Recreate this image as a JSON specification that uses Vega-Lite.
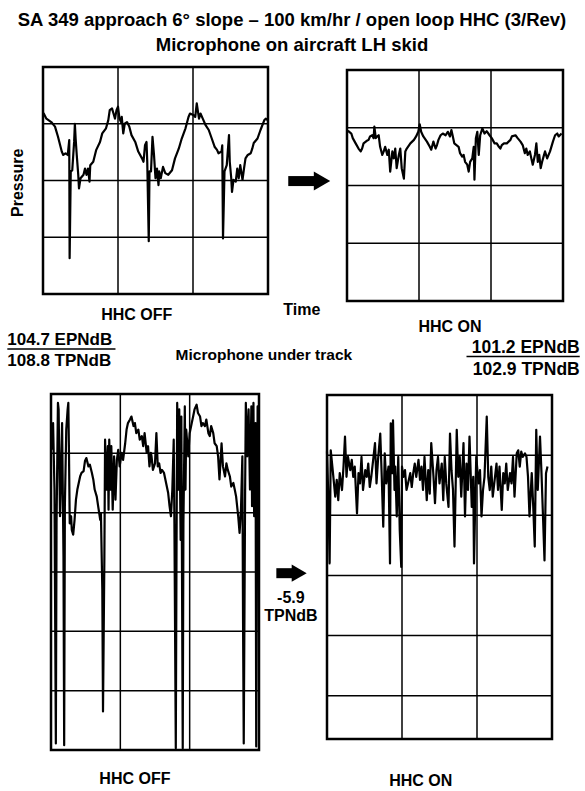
{
"$schema":"https://vega.github.io/schema/vega-lite/v6.json",
"width":585,"height":791,"autosize":"none","padding":0,
"background":"white",
"config":{"view":{"stroke":null},"axis":{"disable":true},"text":{"font":"Liberation Sans","fontWeight":"bold","fontSize":16,"color":"black"}},
"resolve":{"scale":{"x":"independent","y":"independent"}},
"layer":[
{"data":{"values":[{"t":0,"p":3.15},{"t":0.01,"p":3.18},{"t":0.045,"p":3.09},{"t":0.11,"p":3.03},{"t":0.16,"p":2.95},{"t":0.2,"p":2.77},{"t":0.25,"p":2.51},{"t":0.27,"p":2.45},{"t":0.3,"p":2.48},{"t":0.33,"p":2.45},{"t":0.35,"p":2.71},{"t":0.355,"p":0.63},{"t":0.37,"p":2.16},{"t":0.39,"p":2.18},{"t":0.415,"p":2.68},{"t":0.425,"p":3.0},{"t":0.435,"p":2.74},{"t":0.45,"p":2.45},{"t":0.47,"p":2.1},{"t":0.48,"p":1.86},{"t":0.5,"p":2.04},{"t":0.54,"p":2.1},{"t":0.56,"p":2.21},{"t":0.58,"p":2.1},{"t":0.6,"p":2.21},{"t":0.62,"p":1.98},{"t":0.63,"p":2.27},{"t":0.67,"p":2.33},{"t":0.71,"p":2.54},{"t":0.76,"p":2.68},{"t":0.79,"p":2.83},{"t":0.84,"p":2.92},{"t":0.87,"p":3.06},{"t":0.89,"p":3.24},{"t":0.92,"p":3.27},{"t":0.94,"p":3.18},{"t":0.96,"p":3.09},{"t":0.98,"p":3.24},{"t":1.0,"p":3.3},{"t":1.02,"p":3.09},{"t":1.04,"p":3.03},{"t":1.05,"p":3.12},{"t":1.07,"p":2.83},{"t":1.09,"p":3.0},{"t":1.12,"p":3.03},{"t":1.15,"p":2.95},{"t":1.18,"p":2.8},{"t":1.23,"p":2.68},{"t":1.27,"p":2.51},{"t":1.32,"p":2.39},{"t":1.34,"p":2.33},{"t":1.36,"p":2.62},{"t":1.38,"p":2.68},{"t":1.39,"p":2.33},{"t":1.41,"p":0.93},{"t":1.42,"p":2.16},{"t":1.44,"p":2.16},{"t":1.46,"p":2.77},{"t":1.48,"p":2.45},{"t":1.5,"p":2.04},{"t":1.52,"p":2.21},{"t":1.54,"p":1.92},{"t":1.55,"p":2.16},{"t":1.57,"p":2.04},{"t":1.6,"p":2.24},{"t":1.63,"p":2.13},{"t":1.67,"p":2.1},{"t":1.72,"p":2.18},{"t":1.76,"p":2.39},{"t":1.81,"p":2.56},{"t":1.85,"p":2.74},{"t":1.9,"p":2.92},{"t":1.94,"p":3.12},{"t":1.96,"p":3.18},{"t":2.01,"p":3.15},{"t":2.03,"p":3.12},{"t":2.05,"p":3.36},{"t":2.08,"p":3.09},{"t":2.1,"p":3.18},{"t":2.13,"p":3.09},{"t":2.17,"p":2.97},{"t":2.21,"p":2.89},{"t":2.25,"p":2.74},{"t":2.29,"p":2.59},{"t":2.32,"p":2.54},{"t":2.34,"p":2.48},{"t":2.38,"p":2.51},{"t":2.39,"p":2.62},{"t":2.4,"p":0.98},{"t":2.42,"p":2.16},{"t":2.45,"p":2.27},{"t":2.48,"p":2.8},{"t":2.49,"p":2.33},{"t":2.51,"p":2.04},{"t":2.52,"p":1.8},{"t":2.54,"p":2.01},{"t":2.57,"p":1.98},{"t":2.59,"p":2.21},{"t":2.61,"p":2.04},{"t":2.63,"p":2.27},{"t":2.66,"p":2.01},{"t":2.68,"p":2.21},{"t":2.7,"p":2.39},{"t":2.73,"p":2.45},{"t":2.77,"p":2.48},{"t":2.79,"p":2.56},{"t":2.81,"p":2.66},{"t":2.86,"p":2.74},{"t":2.9,"p":2.89},{"t":2.95,"p":3.06},{"t":2.97,"p":3.09},{"t":3.0,"p":3.06}]},
 "layer":[
  {"mark":{"type":"line","color":"black","strokeWidth":2.2,"strokeJoin":"round"},"encoding":{"x":{"field":"t","type":"quantitative","scale":{"domain":[0,3],"range":[43,268],"nice":false,"zero":false},"axis":null},"y":{"field":"p","type":"quantitative","scale":{"domain":[0,4],"range":[294,67],"nice":false,"zero":false},"axis":null}}},
  {"data":{"values":[{"g":1},{"g":2}]},"mark":{"type":"rule","color":"black","strokeWidth":1.5},"encoding":{"x":{"field":"g","type":"quantitative"},"y":{"datum":0},"y2":{"datum":4}}},
  {"data":{"values":[{"g":1},{"g":2},{"g":3}]},"mark":{"type":"rule","color":"black","strokeWidth":1.5},"encoding":{"y":{"field":"g","type":"quantitative"},"x":{"datum":0},"x2":{"datum":3}}},
  {"data":{"values":[{}]},"mark":{"type":"rect","fill":"transparent","stroke":"black","strokeWidth":2.5},"encoding":{"x":{"datum":0},"x2":{"datum":3},"y":{"datum":0},"y2":{"datum":4}}},
  {"data":{"values":[{}]},"mark":{"type":"text","text":["SA 349 approach 6° slope – 100 km/hr / open loop HHC (3/Rev)","Microphone on aircraft LH skid"],"fontSize":18.5,"align":"center","baseline":"alphabetic","lineHeight":25},"encoding":{"x":{"datum":3.32},"y":{"datum":4.72}}},
  {"data":{"values":[{}]},"mark":{"type":"text","text":"Pressure","angle":270,"align":"center","baseline":"middle"},"encoding":{"x":{"datum":-0.33},"y":{"datum":1.96}}},
  {"data":{"values":[{}]},"mark":{"type":"text","text":"HHC OFF","align":"center","baseline":"alphabetic"},"encoding":{"x":{"datum":1.25},"y":{"datum":-0.46}}},
  {"data":{"values":[{}]},"mark":{"type":"text","text":"Time","align":"center","baseline":"alphabetic"},"encoding":{"x":{"datum":3.45},"y":{"datum":-0.37}}},
  {"data":{"values":[{}]},"mark":{"type":"rule","color":"black","strokeWidth":10,"strokeCap":"butt"},"encoding":{"x":{"datum":3.27},"x2":{"datum":3.67},"y":{"datum":1.99}}},
  {"data":{"values":[{}]},"mark":{"type":"point","shape":"triangle-right","filled":true,"color":"black","opacity":1,"size":360},"encoding":{"x":{"datum":3.72},"y":{"datum":1.99}}}
 ]},
{"data":{"values":[{"t":0.0,"p":2.93},{"t":0.02,"p":2.94},{"t":0.06,"p":2.9},{"t":0.08,"p":2.82},{"t":0.12,"p":2.73},{"t":0.16,"p":2.64},{"t":0.19,"p":2.59},{"t":0.21,"p":2.64},{"t":0.23,"p":2.73},{"t":0.27,"p":2.77},{"t":0.3,"p":2.79},{"t":0.32,"p":2.85},{"t":0.35,"p":2.87},{"t":0.37,"p":2.82},{"t":0.38,"p":3.02},{"t":0.4,"p":2.82},{"t":0.42,"p":2.85},{"t":0.44,"p":2.87},{"t":0.46,"p":2.67},{"t":0.49,"p":2.53},{"t":0.51,"p":2.59},{"t":0.53,"p":2.67},{"t":0.56,"p":2.53},{"t":0.58,"p":2.62},{"t":0.6,"p":2.24},{"t":0.63,"p":2.59},{"t":0.65,"p":2.47},{"t":0.67,"p":2.64},{"t":0.69,"p":2.3},{"t":0.72,"p":2.53},{"t":0.74,"p":2.64},{"t":0.76,"p":2.3},{"t":0.79,"p":2.12},{"t":0.81,"p":2.59},{"t":0.83,"p":2.64},{"t":0.88,"p":2.73},{"t":0.93,"p":2.79},{"t":0.96,"p":2.85},{"t":0.99,"p":2.93},{"t":1.01,"p":3.06},{"t":1.03,"p":2.93},{"t":1.06,"p":2.85},{"t":1.11,"p":2.76},{"t":1.15,"p":2.67},{"t":1.17,"p":2.62},{"t":1.2,"p":2.76},{"t":1.23,"p":2.64},{"t":1.25,"p":2.7},{"t":1.27,"p":2.79},{"t":1.3,"p":2.87},{"t":1.33,"p":2.9},{"t":1.37,"p":2.87},{"t":1.4,"p":2.93},{"t":1.43,"p":2.85},{"t":1.45,"p":2.96},{"t":1.47,"p":2.85},{"t":1.49,"p":2.73},{"t":1.52,"p":2.7},{"t":1.55,"p":2.67},{"t":1.57,"p":2.56},{"t":1.6,"p":2.5},{"t":1.62,"p":2.53},{"t":1.64,"p":2.41},{"t":1.67,"p":2.36},{"t":1.69,"p":2.24},{"t":1.71,"p":2.41},{"t":1.74,"p":2.47},{"t":1.76,"p":2.67},{"t":1.77,"p":2.1},{"t":1.79,"p":2.82},{"t":1.81,"p":2.93},{"t":1.83,"p":2.53},{"t":1.85,"p":2.87},{"t":1.88,"p":2.99},{"t":1.91,"p":2.9},{"t":1.94,"p":2.94},{"t":1.98,"p":2.87},{"t":2.01,"p":2.82},{"t":2.05,"p":2.73},{"t":2.08,"p":2.73},{"t":2.11,"p":2.67},{"t":2.13,"p":2.64},{"t":2.15,"p":2.7},{"t":2.18,"p":2.73},{"t":2.22,"p":2.73},{"t":2.27,"p":2.79},{"t":2.29,"p":2.85},{"t":2.34,"p":2.87},{"t":2.37,"p":2.82},{"t":2.41,"p":2.76},{"t":2.44,"p":2.7},{"t":2.47,"p":2.56},{"t":2.49,"p":2.64},{"t":2.51,"p":2.53},{"t":2.54,"p":2.59},{"t":2.56,"p":2.47},{"t":2.58,"p":2.36},{"t":2.61,"p":2.53},{"t":2.63,"p":2.73},{"t":2.65,"p":2.41},{"t":2.67,"p":2.53},{"t":2.69,"p":2.3},{"t":2.71,"p":2.41},{"t":2.73,"p":2.5},{"t":2.75,"p":2.59},{"t":2.78,"p":2.47},{"t":2.8,"p":2.53},{"t":2.82,"p":2.59},{"t":2.86,"p":2.76},{"t":2.89,"p":2.87},{"t":2.92,"p":2.9},{"t":2.94,"p":2.85},{"t":2.98,"p":2.9}]},
 "layer":[
  {"mark":{"type":"line","color":"black","strokeWidth":2.2,"strokeJoin":"round"},"encoding":{"x":{"field":"t","type":"quantitative","scale":{"domain":[0,3],"range":[347,563],"nice":false,"zero":false},"axis":null},"y":{"field":"p","type":"quantitative","scale":{"domain":[0,4],"range":[301,70],"nice":false,"zero":false},"axis":null}}},
  {"data":{"values":[{"g":1},{"g":2}]},"mark":{"type":"rule","color":"black","strokeWidth":1.5},"encoding":{"x":{"field":"g","type":"quantitative"},"y":{"datum":0},"y2":{"datum":4}}},
  {"data":{"values":[{"g":1},{"g":2},{"g":3}]},"mark":{"type":"rule","color":"black","strokeWidth":1.5},"encoding":{"y":{"field":"g","type":"quantitative"},"x":{"datum":0},"x2":{"datum":3}}},
  {"data":{"values":[{}]},"mark":{"type":"rect","fill":"transparent","stroke":"black","strokeWidth":2.5},"encoding":{"x":{"datum":0},"x2":{"datum":3},"y":{"datum":0},"y2":{"datum":4}}},
  {"data":{"values":[{}]},"mark":{"type":"text","text":"HHC ON","align":"center","baseline":"alphabetic"},"encoding":{"x":{"datum":1.43},"y":{"datum":-0.54}}}
 ]},
{"data":{"values":[{"t":0.01,"p":5.06},{"t":0.03,"p":5.51},{"t":0.05,"p":4.39},{"t":0.07,"p":0.11},{"t":0.08,"p":3.82},{"t":0.1,"p":5.85},{"t":0.11,"p":5.74},{"t":0.13,"p":3.94},{"t":0.14,"p":4.39},{"t":0.16,"p":5.51},{"t":0.18,"p":3.26},{"t":0.19,"p":0.08},{"t":0.2,"p":4.11},{"t":0.22,"p":5.4},{"t":0.24,"p":5.74},{"t":0.25,"p":5.85},{"t":0.26,"p":4.95},{"t":0.27,"p":3.82},{"t":0.29,"p":3.94},{"t":0.3,"p":3.71},{"t":0.32,"p":3.63},{"t":0.34,"p":3.88},{"t":0.36,"p":4.22},{"t":0.38,"p":4.39},{"t":0.4,"p":4.5},{"t":0.42,"p":4.61},{"t":0.44,"p":4.67},{"t":0.47,"p":4.7},{"t":0.49,"p":4.87},{"t":0.51,"p":4.92},{"t":0.54,"p":4.78},{"t":0.56,"p":4.81},{"t":0.59,"p":4.67},{"t":0.61,"p":4.56},{"t":0.63,"p":4.39},{"t":0.66,"p":4.27},{"t":0.68,"p":4.11},{"t":0.71,"p":3.88},{"t":0.72,"p":3.99},{"t":0.74,"p":2.7},{"t":0.75,"p":0.65},{"t":0.77,"p":3.26},{"t":0.78,"p":5.23},{"t":0.8,"p":4.39},{"t":0.82,"p":5.12},{"t":0.83,"p":4.05},{"t":0.84,"p":5.23},{"t":0.86,"p":4.39},{"t":0.87,"p":5.12},{"t":0.89,"p":4.05},{"t":0.91,"p":4.95},{"t":0.93,"p":4.22},{"t":0.95,"p":4.89},{"t":0.97,"p":5.06},{"t":0.99,"p":4.78},{"t":1.02,"p":5.01},{"t":1.04,"p":4.89},{"t":1.07,"p":5.17},{"t":1.09,"p":5.4},{"t":1.11,"p":5.51},{"t":1.14,"p":5.57},{"t":1.16,"p":5.62},{"t":1.19,"p":5.46},{"t":1.21,"p":5.51},{"t":1.23,"p":5.34},{"t":1.26,"p":5.4},{"t":1.28,"p":5.23},{"t":1.31,"p":5.29},{"t":1.33,"p":5.12},{"t":1.35,"p":5.34},{"t":1.38,"p":5.01},{"t":1.4,"p":5.12},{"t":1.42,"p":4.78},{"t":1.44,"p":5.01},{"t":1.45,"p":4.95},{"t":1.47,"p":4.72},{"t":1.5,"p":4.83},{"t":1.52,"p":5.34},{"t":1.54,"p":4.78},{"t":1.56,"p":4.83},{"t":1.58,"p":4.67},{"t":1.6,"p":4.72},{"t":1.63,"p":4.67},{"t":1.66,"p":4.5},{"t":1.69,"p":4.33},{"t":1.71,"p":4.11},{"t":1.73,"p":3.94},{"t":1.75,"p":4.39},{"t":1.77,"p":5.23},{"t":1.78,"p":3.82},{"t":1.8,"p":0.03},{"t":1.81,"p":3.26},{"t":1.82,"p":5.85},{"t":1.84,"p":4.39},{"t":1.85,"p":5.74},{"t":1.87,"p":3.54},{"t":1.88,"p":5.62},{"t":1.9,"p":0.03},{"t":1.91,"p":3.82},{"t":1.93,"p":5.79},{"t":1.94,"p":4.39},{"t":1.95,"p":5.4},{"t":1.98,"p":4.95},{"t":2.0,"p":5.34},{"t":2.03,"p":5.51},{"t":2.05,"p":5.62},{"t":2.07,"p":5.74},{"t":2.1,"p":5.82},{"t":2.12,"p":5.68},{"t":2.15,"p":5.62},{"t":2.17,"p":5.46},{"t":2.19,"p":5.51},{"t":2.22,"p":5.46},{"t":2.24,"p":5.57},{"t":2.27,"p":5.34},{"t":2.29,"p":5.29},{"t":2.31,"p":5.46},{"t":2.34,"p":5.34},{"t":2.36,"p":5.17},{"t":2.39,"p":5.12},{"t":2.41,"p":4.95},{"t":2.43,"p":4.56},{"t":2.46,"p":5.17},{"t":2.48,"p":4.78},{"t":2.51,"p":4.61},{"t":2.53,"p":4.83},{"t":2.55,"p":4.72},{"t":2.58,"p":4.61},{"t":2.6,"p":4.44},{"t":2.63,"p":4.5},{"t":2.65,"p":4.39},{"t":2.67,"p":4.27},{"t":2.7,"p":3.94},{"t":2.72,"p":3.66},{"t":2.74,"p":4.05},{"t":2.76,"p":4.95},{"t":2.77,"p":2.14},{"t":2.78,"p":0.11},{"t":2.8,"p":4.39},{"t":2.81,"p":5.85},{"t":2.83,"p":4.95},{"t":2.85,"p":5.74},{"t":2.87,"p":4.39},{"t":2.89,"p":5.79},{"t":2.9,"p":4.11},{"t":2.92,"p":5.85},{"t":2.93,"p":3.94},{"t":2.95,"p":5.51},{"t":2.96,"p":0.06},{"t":2.98,"p":5.79},{"t":2.99,"p":5.74}]},
 "layer":[
  {"mark":{"type":"line","color":"black","strokeWidth":2.2,"strokeJoin":"round"},"encoding":{"x":{"field":"t","type":"quantitative","scale":{"domain":[0,3],"range":[51,259],"nice":false,"zero":false},"axis":null},"y":{"field":"p","type":"quantitative","scale":{"domain":[0,6],"range":[750,394],"nice":false,"zero":false},"axis":null}}},
  {"data":{"values":[{"g":1},{"g":2}]},"mark":{"type":"rule","color":"black","strokeWidth":1.5},"encoding":{"x":{"field":"g","type":"quantitative"},"y":{"datum":0},"y2":{"datum":6}}},
  {"data":{"values":[{"g":1},{"g":2},{"g":3},{"g":4},{"g":5}]},"mark":{"type":"rule","color":"black","strokeWidth":1.5},"encoding":{"y":{"field":"g","type":"quantitative"},"x":{"datum":0},"x2":{"datum":3}}},
  {"data":{"values":[{}]},"mark":{"type":"rect","fill":"transparent","stroke":"black","strokeWidth":2.5},"encoding":{"x":{"datum":0},"x2":{"datum":3},"y":{"datum":0},"y2":{"datum":6}}},
  {"data":{"values":[{}]},"mark":{"type":"text","text":"104.7 EPNdB","align":"left","baseline":"alphabetic","fontSize":17},"encoding":{"x":{"datum":-0.63},"y":{"datum":6.83}}},
  {"data":{"values":[{}]},"mark":{"type":"rule","color":"black","strokeWidth":1.5},"encoding":{"x":{"datum":-0.63},"x2":{"datum":0.93},"y":{"datum":6.76}}},
  {"data":{"values":[{}]},"mark":{"type":"text","text":"108.8 TPNdB","align":"left","baseline":"alphabetic","fontSize":17},"encoding":{"x":{"datum":-0.63},"y":{"datum":6.47}}},
  {"data":{"values":[{}]},"mark":{"type":"text","text":"Microphone under track","align":"center","baseline":"alphabetic","fontSize":15.5},"encoding":{"x":{"datum":3.07},"y":{"datum":6.57}}},
  {"data":{"values":[{}]},"mark":{"type":"rule","color":"black","strokeWidth":10,"strokeCap":"butt"},"encoding":{"x":{"datum":3.25},"x2":{"datum":3.53},"y":{"datum":2.98}}},
  {"data":{"values":[{}]},"mark":{"type":"point","shape":"triangle-right","filled":true,"color":"black","opacity":1,"size":300},"encoding":{"x":{"datum":3.58},"y":{"datum":2.98}}},
  {"data":{"values":[{}]},"mark":{"type":"text","text":["-5.9","TPNdB"],"align":"center","baseline":"alphabetic","lineHeight":18},"encoding":{"x":{"datum":3.46},"y":{"datum":2.48}}},
  {"data":{"values":[{}]},"mark":{"type":"text","text":"HHC OFF","align":"center","baseline":"alphabetic"},"encoding":{"x":{"datum":1.21},"y":{"datum":-0.57}}}
 ]},
{"data":{"values":[{"t":0.0,"p":5.06},{"t":0.02,"p":4.2},{"t":0.035,"p":3.2},{"t":0.05,"p":5.08},{"t":0.08,"p":4.7},{"t":0.11,"p":4.31},{"t":0.13,"p":4.59},{"t":0.15,"p":4.25},{"t":0.17,"p":4.7},{"t":0.2,"p":4.42},{"t":0.22,"p":4.81},{"t":0.24,"p":5.31},{"t":0.26,"p":4.64},{"t":0.28,"p":4.97},{"t":0.31,"p":4.75},{"t":0.33,"p":4.92},{"t":0.35,"p":4.64},{"t":0.37,"p":4.81},{"t":0.4,"p":4.03},{"t":0.42,"p":4.7},{"t":0.44,"p":4.53},{"t":0.46,"p":4.97},{"t":0.48,"p":4.42},{"t":0.51,"p":4.75},{"t":0.53,"p":4.64},{"t":0.55,"p":4.86},{"t":0.57,"p":4.47},{"t":0.59,"p":4.64},{"t":0.62,"p":4.97},{"t":0.64,"p":5.2},{"t":0.66,"p":4.53},{"t":0.68,"p":4.92},{"t":0.71,"p":5.36},{"t":0.73,"p":4.64},{"t":0.75,"p":3.81},{"t":0.77,"p":5.03},{"t":0.79,"p":4.53},{"t":0.82,"p":4.81},{"t":0.84,"p":3.2},{"t":0.85,"p":5.53},{"t":0.87,"p":4.7},{"t":0.88,"p":5.58},{"t":0.9,"p":4.42},{"t":0.91,"p":4.81},{"t":0.93,"p":3.98},{"t":0.95,"p":4.97},{"t":0.97,"p":3.75},{"t":0.99,"p":3.14},{"t":1.0,"p":4.81},{"t":1.02,"p":4.64},{"t":1.04,"p":4.75},{"t":1.06,"p":4.42},{"t":1.08,"p":4.53},{"t":1.11,"p":4.7},{"t":1.13,"p":4.47},{"t":1.15,"p":4.7},{"t":1.17,"p":4.86},{"t":1.19,"p":4.64},{"t":1.22,"p":4.92},{"t":1.24,"p":4.59},{"t":1.26,"p":4.81},{"t":1.28,"p":4.42},{"t":1.3,"p":4.97},{"t":1.33,"p":4.25},{"t":1.35,"p":4.75},{"t":1.37,"p":4.36},{"t":1.39,"p":5.2},{"t":1.42,"p":4.64},{"t":1.44,"p":4.2},{"t":1.46,"p":4.75},{"t":1.48,"p":4.97},{"t":1.5,"p":4.53},{"t":1.53,"p":4.86},{"t":1.55,"p":4.25},{"t":1.57,"p":4.97},{"t":1.59,"p":4.53},{"t":1.62,"p":4.14},{"t":1.64,"p":5.36},{"t":1.66,"p":4.75},{"t":1.68,"p":4.42},{"t":1.7,"p":3.48},{"t":1.73,"p":5.42},{"t":1.75,"p":4.64},{"t":1.77,"p":4.97},{"t":1.79,"p":4.31},{"t":1.82,"p":5.2},{"t":1.84,"p":3.98},{"t":1.86,"p":4.86},{"t":1.88,"p":4.42},{"t":1.9,"p":5.31},{"t":1.93,"p":4.14},{"t":1.95,"p":4.64},{"t":1.96,"p":3.2},{"t":1.98,"p":4.42},{"t":1.99,"p":4.97},{"t":2.02,"p":4.53},{"t":2.04,"p":4.75},{"t":2.06,"p":3.98},{"t":2.08,"p":4.42},{"t":2.1,"p":4.64},{"t":2.13,"p":5.64},{"t":2.15,"p":4.64},{"t":2.17,"p":4.42},{"t":2.19,"p":4.81},{"t":2.21,"p":4.31},{"t":2.24,"p":4.64},{"t":2.26,"p":4.86},{"t":2.28,"p":4.42},{"t":2.3,"p":4.81},{"t":2.33,"p":4.09},{"t":2.35,"p":4.7},{"t":2.37,"p":4.53},{"t":2.39,"p":4.86},{"t":2.41,"p":4.42},{"t":2.44,"p":4.7},{"t":2.46,"p":4.53},{"t":2.48,"p":4.97},{"t":2.5,"p":4.31},{"t":2.53,"p":5.03},{"t":2.55,"p":5.08},{"t":2.57,"p":4.81},{"t":2.59,"p":5.06},{"t":2.61,"p":4.97},{"t":2.64,"p":5.03},{"t":2.66,"p":4.97},{"t":2.68,"p":4.64},{"t":2.7,"p":3.98},{"t":2.73,"p":4.7},{"t":2.75,"p":4.14},{"t":2.77,"p":3.48},{"t":2.79,"p":5.42},{"t":2.81,"p":4.42},{"t":2.84,"p":5.31},{"t":2.86,"p":4.7},{"t":2.88,"p":3.98},{"t":2.9,"p":3.25},{"t":2.92,"p":4.7},{"t":2.94,"p":4.81}]},
 "layer":[
  {"mark":{"type":"line","color":"black","strokeWidth":2.2,"strokeJoin":"round"},"encoding":{"x":{"field":"t","type":"quantitative","scale":{"domain":[0,3],"range":[327,552],"nice":false,"zero":false},"axis":null},"y":{"field":"p","type":"quantitative","scale":{"domain":[0.28,6],"range":[739,395],"nice":false,"zero":false},"axis":null}}},
  {"data":{"values":[{"g":1},{"g":2}]},"mark":{"type":"rule","color":"black","strokeWidth":1.5},"encoding":{"x":{"field":"g","type":"quantitative"},"y":{"datum":0.28},"y2":{"datum":6}}},
  {"data":{"values":[{"g":1},{"g":2},{"g":3},{"g":4},{"g":5}]},"mark":{"type":"rule","color":"black","strokeWidth":1.5},"encoding":{"y":{"field":"g","type":"quantitative"},"x":{"datum":0},"x2":{"datum":3}}},
  {"data":{"values":[{}]},"mark":{"type":"rect","fill":"transparent","stroke":"black","strokeWidth":2.5},"encoding":{"x":{"datum":0},"x2":{"datum":3},"y":{"datum":0.28},"y2":{"datum":6}}},
  {"data":{"values":[{}]},"mark":{"type":"text","text":"101.2 EPNdB","align":"right","baseline":"alphabetic","fontSize":17.5},"encoding":{"x":{"datum":3.37},"y":{"datum":6.7}}},
  {"data":{"values":[{}]},"mark":{"type":"rule","color":"black","strokeWidth":1.5},"encoding":{"x":{"datum":1.86},"x2":{"datum":3.37},"y":{"datum":6.64}}},
  {"data":{"values":[{}]},"mark":{"type":"text","text":"102.9 TPNdB","align":"right","baseline":"alphabetic","fontSize":17.5},"encoding":{"x":{"datum":3.37},"y":{"datum":6.34}}},
  {"data":{"values":[{}]},"mark":{"type":"text","text":"HHC ON","align":"center","baseline":"alphabetic"},"encoding":{"x":{"datum":1.25},"y":{"datum":-0.5}}}
 ]}
]
}
